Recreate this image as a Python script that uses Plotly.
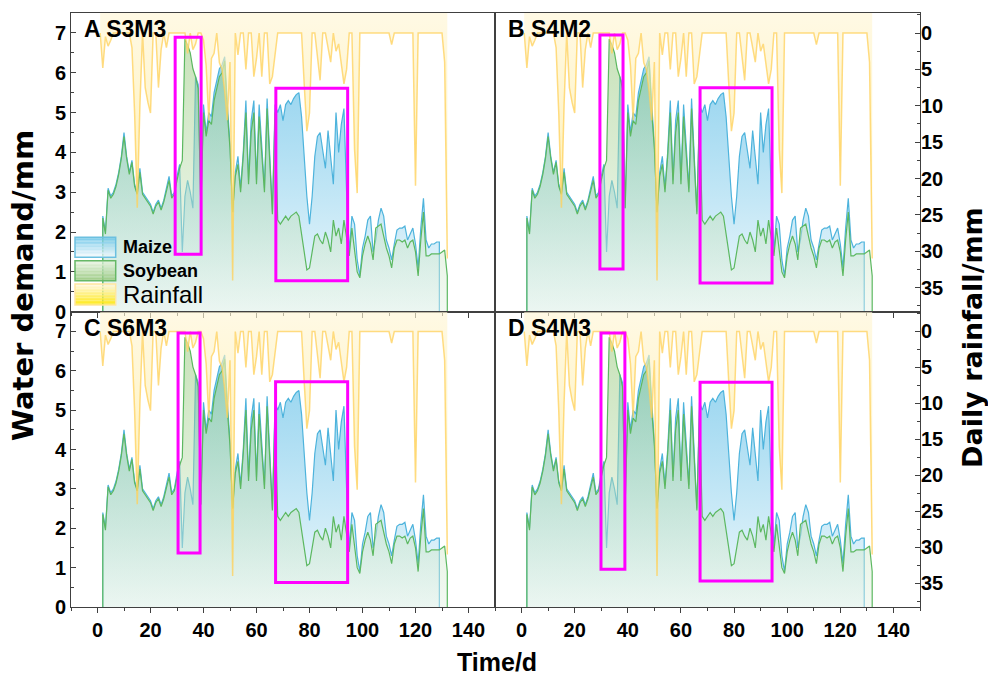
import plotly.graph_objects as go

# ---------------- data ----------------
maize_days = list(range(2, 130))
maize = [2.4, 2.0, 3.1, 2.9, 3.0, 3.2, 3.5, 3.9, 4.5, 3.9,      # 2-11
         3.5, 3.8, 3.2, 3.0, 3.6, 3.0, 2.9, 2.8, 2.7, 2.5,      # 12-21
         2.7, 2.8, 2.6, 2.8, 3.1, 3.4, 2.9, 3.0, 3.4, 3.7,      # 22-31
         1.5, 2.9, 3.3, 3.0, 2.6, 5.9, 5.7, 2.6, 5.2, 4.5,      # 32-41
         5.0, 4.9, 5.5, 5.8, 6.1, 6.2, 6.4, 5.2, 4.2, 2.5,      # 42-51
         3.5, 3.9, 3.1, 4.0, 5.3, 3.3, 4.8, 5.3, 3.3, 5.2,      # 52-61
         4.2, 3.1, 5.35, 3.8, 2.5, 5.2, 5.0, 5.2, 4.8, 5.2,     # 62-71
         5.3, 5.2, 5.35, 5.45, 5.5, 4.9, 3.9, 2.9, 2.2, 2.9,    # 72-81
         3.9, 4.4, 4.5, 4.1, 3.6, 4.55, 3.8, 3.2, 5.0, 4.0,     # 82-91
         4.7, 5.1, 3.0, 1.5, 2.4, 2.2, 1.3, 0.9, 1.6, 1.9,      # 92-101
         2.3, 2.4, 1.5, 1.8, 2.3, 2.6, 2.4, 1.8, 1.6, 1.3,      # 102-111
         1.7, 2.05, 2.1, 2.1, 2.15, 1.8, 1.95, 2.1, 1.7, 1.1,   # 112-121
         2.1, 2.85, 1.8, 1.6, 1.7, 1.7, 1.75, 1.75]             # 122-129

soy_days = list(range(2, 133))
soybean = [2.35, 1.95, 3.05, 2.85, 2.95, 3.15, 3.45, 3.85, 4.4, 3.85,   # 2-11
           3.45, 3.75, 3.15, 2.95, 3.5, 2.95, 2.85, 2.75, 2.65, 2.45,   # 12-21
           2.65, 2.75, 2.55, 2.75, 3.05, 3.3, 2.85, 2.95, 3.3, 3.6,     # 22-31
           3.8, 6.85, 6.7, 6.5, 6.1, 5.9, 5.6, 2.6, 5.0, 4.4,           # 32-41
           4.8, 4.7, 5.3, 5.6, 5.9, 6.0, 6.3, 5.0, 4.1, 2.5,            # 42-51
           3.4, 3.7, 3.0, 3.9, 5.0, 3.2, 4.5, 5.0, 3.2, 4.9,            # 52-61
           4.0, 3.0, 5.1, 3.7, 2.45, 5.0, 2.3, 2.2, 2.3, 2.4,           # 62-71
           2.3, 2.4, 2.45, 2.5, 2.4, 2.0, 1.5, 1.05, 1.1, 1.5,          # 72-81
           1.9, 1.95, 1.8, 1.7, 2.0, 1.8, 1.5, 2.3, 1.9, 2.1,           # 82-91
           1.7, 2.3, 1.9, 1.4, 2.1, 1.5, 1.0, 0.85, 1.4, 1.7,           # 92-101
           1.9, 1.7, 1.3, 2.1, 2.15, 2.2, 1.9, 1.6, 1.4, 1.1,           # 102-111
           1.6, 1.8, 1.8, 1.75, 1.8, 1.6, 1.75, 1.8, 1.5, 0.9,          # 112-121
           1.8, 2.5, 1.4, 1.4, 1.45, 1.45, 1.45, 1.45, 1.5, 1.55,       # 122-131
           0.9]                                                         # 132

rain_days = list(range(1, 133))
rainfall = [0, 4.8, 0.5, 1.8, 1.0, 0, 0, 0, 0, 0,        # 1-10
            0, 0, 2.0, 11, 24, 10, 0, 7.5, 9.5, 11,      # 11-20
            0, 0, 7.5, 2.3, 0, 2.0, 0, 0, 0, 0,          # 21-30
            0, 0, 0, 2.8, 0, 2.3, 1.5, 0, 0, 1.0,        # 31-40
            4.5, 12, 3.5, 2.8, 0, 4.1, 5, 8, 12, 4,      # 41-50
            34, 0, 3, 0, 0, 5, 0, 0, 6, 3.5,             # 51-60
            0, 6, 0, 0, 7, 6, 3, 0, 0, 0,                # 61-70
            0, 0, 0, 0, 0, 0, 0, 7, 13.5, 11,            # 71-80
            0, 0, 3, 6.5, 0, 0, 2, 4, 0, 2.5,            # 81-90
            1.5, 4, 7, 5, 0, 0, 16, 22, 0, 0,            # 91-100
            0, 0, 0, 0, 0, 0, 0, 0, 0, 0,                # 101-110
            1.6, 0, 0, 0, 0, 0, 0, 0, 0, 21,             # 111-120
            0, 0, 0, 0, 0, 0, 0, 0, 0, 0,                # 121-130
            4, 31]                                       # 131-132

panel_labels = ["A S3M3", "B S4M2", "C S6M3", "D S4M3"]
# highlight boxes per panel: (day0, day1, demand0, demand1)
highlight_boxes = [
    [(29.3, 39.1, 1.44, 6.89), (67.3, 94.4, 0.78, 5.61)],
    [(29.5, 38.2, 1.07, 6.95), (67.2, 94.3, 0.72, 5.62)],
    [(30.4, 38.7, 1.37, 6.96), (67.2, 94.4, 0.62, 5.72)],
    [(29.9, 38.9, 0.96, 6.96), (67.2, 94.3, 0.66, 5.71)],
]

x_ticks = list(range(0, 141, 20))
demand_ticks = list(range(0, 8))
rain_ticks = list(range(0, 36, 5))

# ---------------- layout constants ----------------
W, H = 988, 675
ML, MR, MT, MB = 71, 68, 13, 68
PW, PH = W - ML - MR, H - MT - MB
FONT = "Liberation Sans, Arial, sans-serif"
TITLE_FONT = "DejaVu Sans, Verdana, sans-serif"
X_RANGE = [-10, 150]
Y_RANGE = [0, 7.5]
RAIN_RANGE = [38.3, -2.75]
RAIN_TOP = RAIN_RANGE[1]

MAIZE_LINE = "#4db3dc"
SOY_LINE = "#5cb860"
RAIN_LINE = "rgba(255,208,90,0.75)"
MAGENTA = "#ff00ff"
AXIS_COL = "#404040"


def px_x(p):
    return (p - ML) / PW


def px_y(p):
    return (H - MB - p) / PH


x_split = px_x(495)
y_split = px_y(311.7)

fig = go.Figure()


def closed(days, vals):
    return [days[0]] + days + [days[-1]], [0] + vals + [0]


for i in range(4):
    n = i + 1
    xa = "x" if n == 1 else f"x{n}"
    ya = "y" if n == 1 else f"y{n}"
    yr = f"y{n + 4}"

    mx, my = closed(maize_days, maize)
    fig.add_trace(go.Scatter(
        x=mx, y=my, mode="lines", name="Maize",
        line=dict(color=MAIZE_LINE, width=1.2),
        fill="tozeroy",
        fillgradient=dict(type="vertical",
                          colorscale=[[0, "rgba(240,249,252,0.9)"],
                                      [1, "rgba(115,198,234,0.78)"]]),
        xaxis=xa, yaxis=ya, showlegend=False))

    sx, sy = closed(soy_days, soybean)
    fig.add_trace(go.Scatter(
        x=sx, y=sy, mode="lines", name="Soybean",
        line=dict(color=SOY_LINE, width=1.2),
        fill="tozeroy",
        fillgradient=dict(type="vertical",
                          colorscale=[[0, "rgba(228,242,228,0.45)"],
                                      [1, "rgba(140,195,110,0.48)"]]),
        xaxis=xa, yaxis=ya, showlegend=False))

    fig.add_trace(go.Scatter(
        x=rain_days, y=[RAIN_TOP] * len(rain_days), mode="lines",
        line=dict(width=0, color="rgba(0,0,0,0)"), hoverinfo="skip",
        xaxis=xa, yaxis=yr, showlegend=False))
    fig.add_trace(go.Scatter(
        x=rain_days, y=rainfall, mode="lines", name="Rainfall",
        line=dict(color=RAIN_LINE, width=1.5),
        fill="tonexty",
        fillgradient=dict(type="vertical",
                          colorscale=[[0, "rgba(255,226,95,0.65)"],
                                      [0.6, "rgba(255,238,170,0.6)"],
                                      [1, "rgba(255,246,214,0.65)"]]),
        xaxis=xa, yaxis=yr, showlegend=False))

layout = dict(
    width=W, height=H,
    margin=dict(l=ML, r=MR, t=MT, b=MB, autoexpand=False),
    paper_bgcolor="white", plot_bgcolor="white",
    showlegend=False,
    font=dict(family=FONT, size=20, color="black"),
)

tickfont = dict(family=FONT, size=20, color="black", weight="bold")

shapes = []
annotations = []

for i in range(4):
    n = i + 1
    col, row = i % 2, i // 2
    xd = [0, x_split] if col == 0 else [x_split, 1]
    yd = [y_split, 1] if row == 0 else [0, y_split]
    xkey = "xaxis" if n == 1 else f"xaxis{n}"
    ykey = "yaxis" if n == 1 else f"yaxis{n}"
    rkey = f"yaxis{n + 4}"
    xa = "x" if n == 1 else f"x{n}"
    ya = "y" if n == 1 else f"y{n}"

    layout[xkey] = dict(
        domain=xd, range=X_RANGE, anchor=ya, automargin=False,
        showline=True, mirror=True, linecolor=AXIS_COL, linewidth=1,
        showgrid=False, zeroline=False,
        tickmode="array", tickvals=x_ticks,
        ticks="outside", ticklen=5, tickcolor=AXIS_COL,
        minor=dict(tickmode="linear", tick0=0, dtick=10, ticks="outside",
                   ticklen=3, tickcolor=AXIS_COL),
        showticklabels=(row == 1), tickfont=tickfont,
    )
    layout[ykey] = dict(
        domain=yd, range=Y_RANGE, anchor=xa, automargin=False,
        showline=True, mirror=True, linecolor=AXIS_COL, linewidth=1,
        showgrid=False, zeroline=False,
        tickmode="array", tickvals=demand_ticks,
        ticks="inside" if col == 0 else "", ticklen=5, tickcolor=AXIS_COL,
        minor=dict(tickmode="linear", tick0=0, dtick=0.5,
                   ticks="inside" if col == 0 else "", ticklen=3,
                   tickcolor=AXIS_COL),
        showticklabels=(col == 0), tickfont=tickfont,
    )
    layout[rkey] = dict(
        range=RAIN_RANGE, overlaying=ya, anchor=xa, side="right",
        automargin=False,
        showgrid=False, zeroline=False, showline=False,
        tickmode="array", tickvals=rain_ticks,
        ticks="inside" if col == 1 else "", ticklen=5, tickcolor=AXIS_COL,
        minor=dict(tickmode="linear", tick0=0, dtick=2.5,
                   ticks="inside" if col == 1 else "", ticklen=3,
                   tickcolor=AXIS_COL),
        showticklabels=(col == 1), tickfont=tickfont,
    )

    for (d0, d1, v0, v1) in highlight_boxes[i]:
        shapes.append(dict(type="rect", xref=xa, yref=ya,
                           x0=d0, x1=d1, y0=v0, y1=v1,
                           line=dict(color=MAGENTA, width=3),
                           fillcolor="rgba(0,0,0,0)", layer="above"))

    annotations.append(dict(
        text=panel_labels[i], xref=f"{xa} domain", yref=f"{ya} domain",
        x=0.026, y=0.945, xanchor="left", yanchor="middle", showarrow=False,
        font=dict(family=FONT, size=23, color="black", weight="bold")))

# axis titles
annotations.append(dict(text="Water demand/mm", xref="paper", yref="paper",
                        x=px_x(23), y=px_y(286), textangle=-90, showarrow=False,
                        xanchor="center", yanchor="middle",
                        font=dict(family=TITLE_FONT, size=29, weight="bold")))
annotations.append(dict(text="Daily rainfall/mm", xref="paper", yref="paper",
                        x=px_x(972), y=px_y(338), textangle=-90, showarrow=False,
                        xanchor="center", yanchor="middle",
                        font=dict(family=TITLE_FONT, size=27, weight="bold")))
annotations.append(dict(text="Time/d", xref="paper", yref="paper",
                        x=px_x(497), y=px_y(662), showarrow=False,
                        xanchor="center", yanchor="middle",
                        font=dict(family=FONT, size=25, weight="bold")))

# custom legend (gradient swatches)
legend_items = [
    ("Maize", (237.3, 257.3), (110, 198, 232), (242, 249, 252), "#6cc0e0", 18, "bold"),
    ("Soybean", (260.7, 280.7), (230, 242, 222), (150, 200, 125), "#66b866", 18, "bold"),
    ("Rainfall", (284.0, 305.0), (255, 246, 218), (255, 232, 10), "#ffe6a0", 24, "normal"),
]
N_STRIPES = 14
for label, (top, bot), c_top, c_bot, border, fsize, fweight in legend_items:
    for k in range(N_STRIPES):
        t = k / (N_STRIPES - 1)
        c = tuple(int(round(c_top[j] + (c_bot[j] - c_top[j]) * t)) for j in range(3))
        y0 = top + (bot - top) * k / N_STRIPES
        y1 = top + (bot - top) * (k + 1) / N_STRIPES
        shapes.append(dict(type="rect", xref="paper", yref="paper",
                           x0=px_x(75), x1=px_x(115.7), y0=px_y(y1), y1=px_y(y0),
                           line=dict(width=0), fillcolor=f"rgba({c[0]},{c[1]},{c[2]},0.9)",
                           layer="above"))
    shapes.append(dict(type="rect", xref="paper", yref="paper",
                       x0=px_x(75), x1=px_x(115.7), y0=px_y(bot), y1=px_y(top),
                       line=dict(color=border, width=1.5), fillcolor="rgba(0,0,0,0)",
                       layer="above"))
    annotations.append(dict(text=label, xref="paper", yref="paper",
                            x=px_x(121), y=px_y((top + bot) / 2),
                            xanchor="left", yanchor="middle", showarrow=False,
                            font=dict(family=FONT, size=fsize, color="black",
                                      weight=fweight)))

layout["shapes"] = shapes
layout["annotations"] = annotations
fig.update_layout(**layout)

fig.write_html("out.html",
               config={"displayModeBar": False},
               post_script="document.body.style.margin='0px';"
                           "document.body.style.overflow='hidden';")
